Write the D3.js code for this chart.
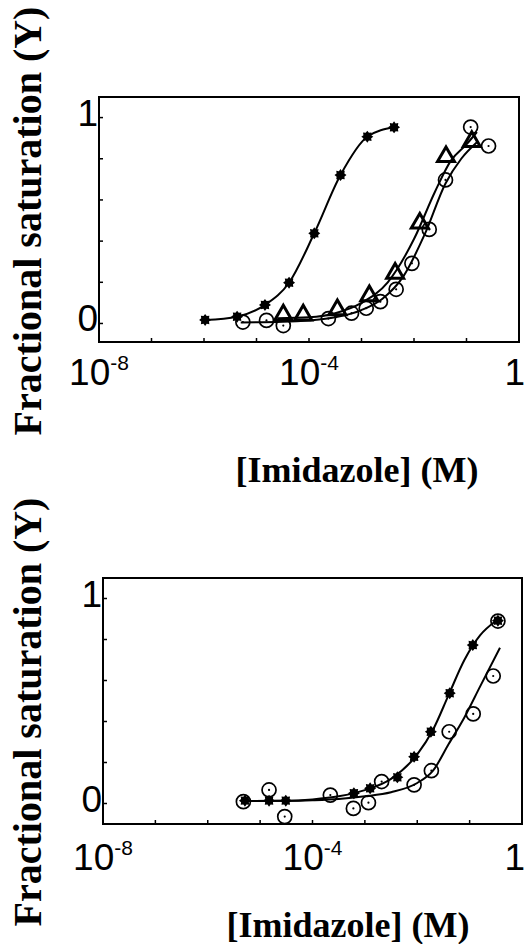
<!DOCTYPE html>
<html>
<head>
<meta charset="utf-8">
<script src="https://cdn.jsdelivr.net/npm/d3@7"></script>
<style>
  body { margin: 0; background: #fff; }
  svg { display: block; }
</style>
</head>
<body>
<svg id="chart"></svg>
<script>

// readings: [concentration (M), fractional saturation]
var topStars = [[1.05e-6,0.017],[4.27e-6,0.033],[1.45e-5,0.09],[4.17e-5,0.198],[1.26e-4,0.438],
                [3.98e-4,0.721],[1.29e-3,0.907],[4.17e-3,0.953]]
var topTriangles = [[3.24e-5,0.041],[7.76e-5,0.041],[3.47e-4,0.066],[1.41e-3,0.134],[4.37e-3,0.244],
                    [1.29e-2,0.487],[4.07e-2,0.81],[0.126,0.883]]
var topCircles = [[5.5e-6,0.007],[1.55e-5,0.015],[3.24e-5,-0.01],[2.34e-4,0.024],[6.46e-4,0.05],
                  [1.23e-3,0.074],[2.29e-3,0.106],[4.57e-3,0.166],[9.12e-3,0.292],[1.95e-2,0.457],
                  [3.98e-2,0.697],[0.120,0.954],[0.263,0.862]]
// fitted lines as traced
var topTriFit = [[2.5e-5,0.025],[1e-4,0.03],[3.16e-4,0.05],[1e-3,0.10],[3.16e-3,0.20],[1e-2,0.41],
                 [2.51e-2,0.64],[5.01e-2,0.79],[0.1,0.87],[0.158,0.93]]
var topCircFit = [[5.01e-6,0.005],[3.16e-5,0.008],[1e-4,0.015],[3.16e-4,0.03],[1e-3,0.065],[2.51e-3,0.12],
                  [6.31e-3,0.23],[1.58e-2,0.43],[3.98e-2,0.68],[7.94e-2,0.80],[0.158,0.88]]

var botStars = [[5.13e-6,0.014],[1.48e-5,0.014],[3.09e-5,0.014],[6.17e-4,0.05],[1.26e-3,0.074],
                [4.17e-3,0.128],[8.71e-3,0.228],[1.82e-2,0.35],[4.17e-2,0.538],[0.115,0.773],[0.347,0.892]]
var botCircles = [[4.79e-6,0.009],[1.48e-5,0.066],[2.95e-5,-0.064],[2.19e-4,0.041],[6.03e-4,-0.024],
                  [1.17e-3,0.004],[2.09e-3,0.107],[8.71e-3,0.091],[1.86e-2,0.16],[4.07e-2,0.35],
                  [0.117,0.437],[0.282,0.622],[0.347,0.89]]
var botStarFit = [[5.01e-6,0.012],[3.16e-5,0.013],[1e-4,0.02],[3.16e-4,0.035],[1e-3,0.065],[3.16e-3,0.12],
                  [1e-2,0.24],[2e-2,0.36],[3.98e-2,0.53],[7.94e-2,0.70],[0.158,0.82],[0.316,0.89]]
var botCircFit = [[5.01e-6,0.012],[3.16e-5,0.013],[1e-4,0.016],[3.16e-4,0.022],[1e-3,0.035],[3.16e-3,0.055],
                  [1e-2,0.10],[2e-2,0.16],[3.98e-2,0.29],[7.94e-2,0.42],[0.158,0.57],[0.38,0.76]]

var xTicks = [1e-8,1e-7,1e-6,1e-5,1e-4,1e-3,1e-2,1e-1,1]
var xLabels = [{v:1e-8, base:"10", sup:"-8"}, {v:1e-4, base:"10", sup:"-4"}, {v:1, base:"1", sup:""}]
var yTicks = [0,0.2,0.4,0.6,0.8,1]
var yLabels = [0,1]

var width = 525
var height = 944

var svg = d3.select('#chart')
            .attr('width', width)
            .attr('height', height)

// 8 point blob used for the filled markers
var starPath = function(){
  var pts = []
  for (var k = 0; k < 16; k++){
    var r = k % 2 == 0 ? 6 : 4.2
    var a = k * Math.PI / 8
    pts.push([r*Math.cos(a), r*Math.sin(a)])
  }
  return 'M' + pts.join('L') + 'Z'
}()

var drawPanel = function(p){
  var xScale = d3.scaleLog().domain([1e-8, 1]).range([p.left, p.right])
  var yScale = d3.scaleLinear().domain(p.yDomain).range([p.bottom, p.top])

  var g = svg.append('g')

  // frame
  g.append('rect')
   .attr('x', p.left).attr('y', p.top)
   .attr('width', p.right - p.left).attr('height', p.bottom - p.top)
   .attr('fill', 'none').attr('stroke', '#000').attr('stroke-width', 2)

  // inward ticks
  g.selectAll('.xt').data(xTicks.slice(1, -1)).enter().append('line')
   .attr('x1', function(d){return xScale(d)}).attr('x2', function(d){return xScale(d)})
   .attr('y1', p.bottom).attr('y2', p.bottom - 4)
   .attr('stroke', '#000').attr('stroke-width', 1.5)
  g.selectAll('.yt').data(yTicks).enter().append('line')
   .attr('x1', p.left).attr('x2', p.left + 4)
   .attr('y1', function(d){return yScale(d)}).attr('y2', function(d){return yScale(d)})
   .attr('stroke', '#000').attr('stroke-width', 1.5)

  // tick labels; the "1" at the far right is kept inside the page
  var xl = g.selectAll('.xl').data(xLabels).enter().append('text')
   .attr('x', function(d){return d.v == 1 ? width : xScale(d.v)})
   .attr('y', p.bottom + p.labelGap)
   .attr('text-anchor', function(d){return d.v == 1 ? 'end' : 'middle'})
   .style('font-family', 'Liberation Sans, Arial, sans-serif')
  xl.append('tspan').style('font-size', '37px').text(function(d){return d.base})
  xl.append('tspan').style('font-size', '21px').attr('dy', -15).text(function(d){return d.sup})

  g.selectAll('.yl').data(yLabels).enter().append('text')
   .attr('x', p.left - 1)
   .attr('y', function(d){return yScale(d) + 8})
   .attr('text-anchor', 'end')
   .style('font-family', 'Liberation Sans, Arial, sans-serif')
   .style('font-size', '37px')
   .text(function(d){return d})

  // titles
  g.append('text')
   .attr('x', p.xTitleX).attr('y', p.xTitleY)
   .attr('text-anchor', 'middle')
   .style('font-family', 'Liberation Serif, Times New Roman, serif')
   .style('font-weight', 'bold').style('font-size', '36px')
   .text('[Imidazole] (M)')
  g.append('text')
   .attr('transform', 'translate(41,' + p.yTitleY + ') rotate(-90)')
   .attr('text-anchor', 'middle')
   .style('font-family', 'Liberation Serif, Times New Roman, serif')
   .style('font-weight', 'bold').style('font-size', '40px')
   .text('Fractional saturation (Y)')

  var line = d3.line()
               .x(function(d){return xScale(d[0])})
               .y(function(d){return yScale(d[1])})
               .curve(d3.curveMonotoneX)

  p.lines.forEach(function(ln){
    g.append('path').datum(ln)
     .attr('d', line)
     .attr('fill', 'none').attr('stroke', '#000').attr('stroke-width', 2)
  })

  if (p.circles){
    var c = g.selectAll('.circ').data(p.circles).enter().append('g')
             .attr('transform', function(d){return 'translate(' + xScale(d[0]) + ',' + yScale(d[1]) + ')'})
    c.append('circle').attr('r', 7).attr('fill', 'none').attr('stroke', '#000').attr('stroke-width', 1.7)
    c.append('circle').attr('r', 1.1).attr('fill', '#000')
  }
  if (p.triangles){
    g.selectAll('.tri').data(p.triangles).enter().append('path')
     .attr('d', d3.symbol().type(d3.symbolTriangle).size(125))
     .attr('transform', function(d){return 'translate(' + xScale(d[0]) + ',' + yScale(d[1]) + ')'})
     .attr('fill', 'none').attr('stroke', '#000').attr('stroke-width', 3)
  }
  if (p.stars){
    g.selectAll('.star').data(p.stars).enter().append('path')
     .attr('d', starPath)
     .attr('transform', function(d){return 'translate(' + xScale(d[0]) + ',' + yScale(d[1]) + ')'})
     .attr('fill', '#000')
  }
}

drawPanel({
  left: 99, right: 519, top: 97, bottom: 342, yDomain: [-0.09, 1.1],
  labelGap: 43, xTitleX: 357, xTitleY: 482, yTitleY: 221,
  lines: [topStars, topTriFit, topCircFit],
  stars: topStars, triangles: topTriangles, circles: topCircles
})

drawPanel({
  left: 103, right: 522, top: 578, bottom: 824, yDomain: [-0.1, 1.1],
  labelGap: 46, xTitleX: 348, xTitleY: 937, yTitleY: 712,
  lines: [botStarFit, botCircFit],
  stars: botStars, circles: botCircles
})

</script>
</body>
</html>
